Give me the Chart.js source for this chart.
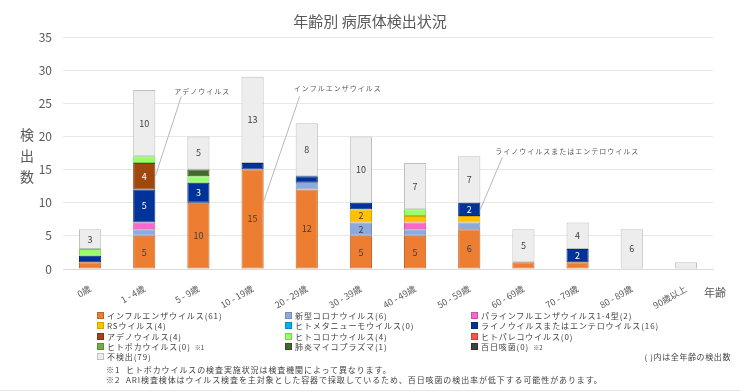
<!DOCTYPE html>
<html><head><meta charset="utf-8">
<script src="https://cdn.jsdelivr.net/npm/chart.js@4/dist/chart.umd.min.js"></script>
<style>
html,body{margin:0;padding:0;background:#fff;}
#wrap{position:relative;width:740px;height:392px;overflow:hidden;font-family:"Noto Sans CJK JP","Noto Sans",sans-serif;color:#595959;}
canvas{position:absolute;left:0;top:0;}
.abs{position:absolute;white-space:nowrap;}
#title{left:0;width:740px;top:10px;text-align:center;font-size:15px;line-height:22px;color:#595959;}
#ytitle{left:18px;width:18px;top:124px;text-align:center;font-size:14px;line-height:21px;color:#595959;}
#xtitle{left:704px;top:285px;font-size:11px;line-height:14px;color:#595959;}
.lg{font-size:8px;line-height:10px;letter-spacing:0.9px;color:#404040;}
.lg i{display:inline-block;width:5px;height:5px;border:1px solid #888;margin-right:3px;vertical-align:0px;}
.lg small{font-size:6px;letter-spacing:0;margin-left:4px;}
.fn{font-size:8px;line-height:10px;letter-spacing:0.9px;color:#404040;}
#wrap:after{content:"";position:absolute;left:0;right:0;bottom:1px;height:1px;background:#e4e4e4;}
</style></head><body>
<div id="wrap">
<canvas id="c" width="740" height="392"></canvas>
<div id="title" class="abs">年齢別 病原体検出状況</div>
<div id="ytitle" class="abs">検<br>出<br>数</div>
<div id="xtitle" class="abs">年齢</div>
<div id="legend"></div>
<div class="abs fn" style="right:9px;top:352px;letter-spacing:0.6px;">( )内は全年齢の検出数</div>
<div class="abs fn" style="left:106px;top:365px;">※1</div>
<div class="abs fn" style="left:126px;top:365px;">ヒトボカウイルスの検査実施状況は検査機関によって異なります。</div>
<div class="abs fn" style="left:106px;top:375px;">※2</div>
<div class="abs fn" style="left:126px;top:375px;">ARI検査検体はウイルス検査を主対象とした容器で採取しているため、百日咳菌の検出率が低下する可能性があります。</div>
</div>
<script>
const categories = ['0歳','1 - 4歳','5 - 9歳','10 - 19歳','20 - 29歳','30 - 39歳','40 - 49歳','50 - 59歳','60 - 69歳','70 - 79歳','80 - 89歳','90歳以上'];
const yTicks = [0,5,10,15,20,25,30,35];

const influenza     = [1,5,10,15,12,5,5,6,1,1,0,0];
const covid         = [0,1,0,0,1,2,1,1,0,0,0,0];
const parainfluenza = [0,1,0,0,0,0,1,0,0,0,0,0];
const rsv           = [0,0,0,0,0,2,1,1,0,0,0,0];
const hmpv          = [0,0,0,0,0,0,0,0,0,0,0,0];
const rhinoEntero   = [1,5,3,1,1,1,0,2,0,2,0,0];
const adeno         = [0,4,0,0,0,0,0,0,0,0,0,0];
const hcov          = [1,1,1,0,0,0,1,0,0,0,0,0];
const parecho       = [0,0,0,0,0,0,0,0,0,0,0,0];
const boca          = [0,0,0,0,0,0,0,0,0,0,0,0];
const mycoplasma    = [0,0,1,0,0,0,0,0,0,0,0,0];
const pertussis     = [0,0,0,0,0,0,0,0,0,0,0,0];
const notDetected   = [3,10,5,13,8,10,7,7,5,4,6,1];

const seriesNames = ['インフルエンザウイルス','新型コロナウイルス','パラインフルエンザウイルス1-4型','RSウイルス','ヒトメタニューモウイルス','ライノウイルスまたはエンテロウイルス','アデノウイルス','ヒトコロナウイルス','ヒトパレコウイルス','ヒトボカウイルス','肺炎マイコプラズマ','百日咳菌','不検出'];
const seriesNotes = ['','','','','','','','','','※1','','※2',''];
const seriesData = [influenza,covid,parainfluenza,rsv,hmpv,rhinoEntero,adeno,hcov,parecho,boca,mycoplasma,pertussis,notDetected];

const fillColors   = ['#ED7D31','#8EA9DB','#FF66CC','#FFC000','#00B0F0','#003399','#9E480E','#99FF66','#FF5050','#70AD47','#43682B','#404040','#EDEDED'];
const borderColors = ['#C0652A','#7090C0','#D04FA8','#D9A300','#0090C8','#002A80','#7E390B','#7ACC52','#D04040','#5A8C39','#32501F','#303030','#BFBFBF'];
const labelColors  = ['#404040','#404040','#404040','#404040','#404040','#ffffff','#ffffff','#404040','#404040','#404040','#ffffff','#ffffff','#404040'];

const callouts = [
  {series:6, cat:1, text:'アデノウイルス', frac:0.5, dx:19, dy:-85, lx:7, ly:5},
  {series:0, cat:3, text:'インフルエンザウイルス', frac:0.32, dx:30, dy:-113, lx:6, ly:8},
  {series:5, cat:7, text:'ライノウイルスまたはエンテロウイルス', frac:0.5, dx:15, dy:-58, lx:7, ly:6}
];

// legend
const lg = document.getElementById('legend');
const colX = [97,285,471];
seriesNames.forEach((n,i)=>{
  const total = seriesData[i].reduce((a,b)=>a+b,0);
  const d = document.createElement('div');
  d.className='abs lg';
  d.style.left = colX[i%3]+'px';
  d.style.top = (311 + Math.floor(i/3)*10.3)+'px';
  d.innerHTML = '<i style="background:'+fillColors[i]+';border-color:'+borderColors[i]+'"></i>'+n+'('+total+')'+(seriesNotes[i]?'<small>'+seriesNotes[i]+'</small>':'');
  lg.appendChild(d);
});

const FONT = '"Noto Sans CJK JP","Noto Sans",sans-serif';

const segLabels = {
  id:'segLabels',
  afterDatasetsDraw(chart){
    const ctx = chart.ctx;
    ctx.save();
    ctx.font = '9px '+FONT;
    ctx.textAlign='center'; ctx.textBaseline='middle';
    chart.data.datasets.forEach((ds,di)=>{
      const meta = chart.getDatasetMeta(di);
      meta.data.forEach((el,j)=>{
        const v = ds.data[j];
        if (v>=2){
          ctx.fillStyle = labelColors[di];
          ctx.fillText(String(v), el.x, (el.y+el.base)/2);
        }
      });
    });
    ctx.restore();
  }
};

const calloutPlugin = {
  id:'callouts',
  afterDatasetsDraw(chart){
    const ctx = chart.ctx;
    ctx.save();
    callouts.forEach(c=>{
      const el = chart.getDatasetMeta(c.series).data[c.cat];
      const ax = el.x + el.width/2;
      const ay = el.y + c.frac*(el.base-el.y);
      const tx = ax + c.dx, ty = ay + c.dy;
      ctx.strokeStyle='#a6a6a6'; ctx.lineWidth=0.8;
      ctx.beginPath(); ctx.moveTo(tx+c.lx, ty+c.ly); ctx.lineTo(ax, ay); ctx.stroke();
      ctx.fillStyle='#595959';
      ctx.font='7px '+FONT;
      try{ ctx.letterSpacing='1px'; }catch(e){}
      ctx.textAlign='left'; ctx.textBaseline='middle';
      ctx.fillText(c.text, tx, ty);
    });
    ctx.restore();
  }
};

new Chart(document.getElementById('c'), {
  type:'bar',
  data:{
    labels:categories,
    datasets: seriesData.map((d,i)=>({
      label:seriesNames[i], data:d,
      backgroundColor:fillColors[i], borderColor:borderColors[i], borderWidth:1,
      categoryPercentage:1, barPercentage:0.41, borderSkipped:false
    }))
  },
  options:{
    responsive:false, animation:false,
    layout:{padding:{top:37,right:27,bottom:83,left:0}},
    plugins:{legend:{display:false}, tooltip:{enabled:false}, title:{display:false}},
    scales:{
      x:{stacked:true,
         grid:{display:false},
         border:{color:'#d9d9d9'},
         ticks:{color:'#595959', font:{size:9,family:FONT}, minRotation:30, maxRotation:30, padding:6, autoSkip:false},
         afterFit(s){ s.height=40; }
      },
      y:{stacked:true, min:0, max:35,
         afterBuildTicks(s){ s.ticks = yTicks.map(v=>({value:v})); },
         grid:{color:'#e8e8e8', drawTicks:false},
         border:{display:false},
         ticks:{color:'#595959', font:{size:12,family:FONT}, padding:11},
         afterFit(s){ s.width=63; }
      }
    }
  },
  plugins:[segLabels, calloutPlugin]
});
</script>
</body></html>
